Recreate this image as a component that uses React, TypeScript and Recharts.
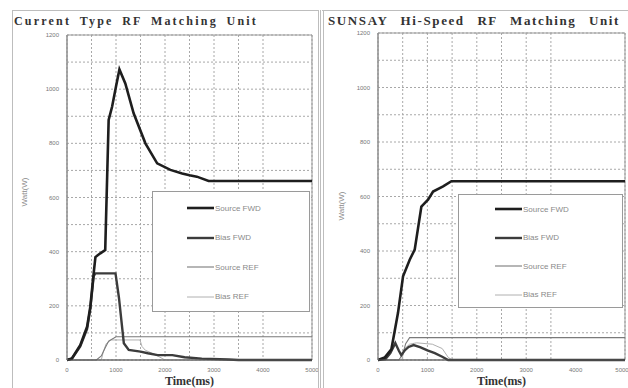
import React from "react";
import { CartesianGrid, Legend, Line, LineChart, ReferenceArea, XAxis, YAxis } from "recharts";

// time (ms) / watt pairs
const curSrcFwdT = [0, 100, 270, 410, 476, 544, 580, 680, 780, 850, 920, 1000, 1070, 1190, 1360, 1600, 1840, 2110, 2350, 2500, 2650, 2890, 5000];
const curSrcFwdW = [0, 6, 55, 123, 197, 320, 380, 394, 406, 886, 935, 1010, 1073, 1021, 911, 800, 726, 702, 689, 682, 677, 661, 661];
const curBiasFwdT = [0, 100, 270, 410, 476, 544, 580, 990, 1060, 1160, 1260, 1500, 1650, 1850, 2150, 2400, 2750, 3300, 3500, 5000];
const curBiasFwdW = [0, 5, 50, 115, 190, 310, 320, 320, 230, 62, 37, 31, 25, 18, 18, 10, 5, 2, 0, 0];
const curSrcRefT = [0, 600, 700, 780, 850, 950, 1000, 5000];
const curSrcRefW = [0, 0, 15, 45, 70, 80, 86, 86];
const curBiasRefT = [0, 700, 740, 800, 900, 1490, 1530, 1600, 1800, 2000, 5000];
const curBiasRefW = [0, 0, 30, 60, 74, 74, 50, 36, 20, 0, 0];

const newSrcFwdT = [0, 135, 270, 405, 507, 642, 743, 878, 1013, 1115, 1318, 1486, 5000];
const newSrcFwdW = [0, 9, 39, 173, 307, 368, 405, 563, 588, 618, 637, 656, 656];
const newBiasFwdT = [0, 150, 250, 350, 420, 470, 540, 620, 720, 850, 1000, 1150, 1300, 1420, 5000];
const newBiasFwdW = [0, 3, 25, 62, 35, 18, 35, 48, 55, 47, 35, 25, 12, 0, 0];
const newSrcRefT = [0, 420, 500, 560, 640, 5000];
const newSrcRefW = [0, 0, 20, 60, 82, 82];
const newBiasRefT = [0, 480, 540, 640, 780, 1100, 1300, 1420, 1500, 5000];
const newBiasRefW = [0, 0, 42, 58, 63, 58, 42, 10, 0, 0];

const seriesNames = ["Source FWD", "Bias FWD", "Source REF", "Bias REF"];
const seriesColors = ["#1e1e1e", "#3c3c3c", "#7a7a7a", "#b0b0b0"];
const seriesWidths = [2.6, 2.4, 1.1, 1];

const xTicks = [0, 500, 1000, 1500, 2000, 2500, 3000, 3500, 4000, 4500, 5000];
const yTicks = [0, 100, 200, 300, 400, 500, 600, 700, 800, 900, 1000, 1100, 1200];

const zip = (t: number[], w: number[]) => t.map((v, i) => ({ t: v, w: w[i] }));

const leftSeries = [
  zip(curSrcFwdT, curSrcFwdW),
  zip(curBiasFwdT, curBiasFwdW),
  zip(curSrcRefT, curSrcRefW),
  zip(curBiasRefT, curBiasRefW),
];
const rightSeries = [
  zip(newSrcFwdT, newSrcFwdW),
  zip(newBiasFwdT, newBiasFwdW),
  zip(newSrcRefT, newSrcRefW),
  zip(newBiasRefT, newBiasRefW),
];

type Box = { left: number; top: number; width: number; height: number; lineX: number; rowTop: number; rowGap: number };

function LegendBox({ box }: { box: Box }) {
  return (
    <div
      style={{
        width: box.width,
        height: box.height,
        border: "1px solid #9a9a9a",
        background: "#fff",
        position: "relative",
        boxSizing: "border-box",
        fontFamily: "Arial, 'Liberation Sans', sans-serif",
      }}
    >
      {seriesNames.map((name, i) => (
        <div
          key={name}
          style={{
            position: "absolute",
            left: box.lineX,
            top: box.rowTop + i * box.rowGap - 6,
            height: 12,
            display: "flex",
            alignItems: "center",
            fontSize: 8,
            color: "#8a8a8a",
            whiteSpace: "nowrap",
          }}
        >
          <svg width={27} height={12}>
            <line x1={0} y1={6} x2={27} y2={6} stroke={seriesColors[i]} strokeWidth={seriesWidths[i]} />
          </svg>
          <span style={{ marginLeft: 1 }}>{name}</span>
        </div>
      ))}
    </div>
  );
}

function Panel(props: {
  x: number;
  title: string;
  series: { t: number; w: number }[][];
  yAxisW: number;
  top: number;
  right: number;
  box: Box;
  labelX: number;
  labelY: number;
  titleX: number;
  titleW: number;
  titleSize: number;
  titleSpacing: number;
}) {
  const { x, title, series, yAxisW, top, right, box } = props;
  return (
    <>
      <div
        style={{
          position: "absolute",
          left: props.titleX,
          top: 14,
          width: props.titleW,
          fontFamily: "'Liberation Serif', 'DejaVu Serif', serif",
          fontWeight: "bold",
          fontSize: props.titleSize,
          lineHeight: "14px",
          letterSpacing: props.titleSpacing,
          color: "#333",
          textAlignLast: "justify",
          textAlign: "justify",
          whiteSpace: "nowrap",
        }}
      >
        {title}
      </div>
      <div
        style={{
          position: "absolute",
          left: props.labelX - 30,
          top: props.labelY - 6,
          width: 60,
          textAlign: "center",
          transform: "rotate(-90deg)",
          fontFamily: "Arial, 'Liberation Sans', sans-serif",
          fontSize: 8,
          color: "#8a8a8a",
          lineHeight: "12px",
        }}
      >
        Watt(W)
      </div>
      <div style={{ position: "absolute", left: x, top: 0 }}>
        <LineChart width={306} height={388} margin={{ top, right, bottom: 0, left: 0 }}>
          <CartesianGrid stroke="#a8a8a8" strokeDasharray="2 2" />
          <XAxis
            dataKey="t"
            type="number"
            domain={[0, 5000]}
            ticks={xTicks}
            tickFormatter={(v: number) => (v % 1000 === 0 ? String(v) : "")}
            tickLine={false}
            axisLine={{ stroke: "#555" }}
            height={28}
            tick={{ fontSize: 6, fill: "#777", fontFamily: "Arial" }}
            allowDuplicatedCategory={false}
            label={{
              value: "Time(ms)",
              position: "insideBottom",
              offset: 3,
              style: { fontFamily: "'Liberation Serif', serif", fontWeight: "bold", fontSize: 12, fill: "#333" },
            }}
          />
          <YAxis
            type="number"
            domain={[0, 1200]}
            ticks={yTicks}
            tickFormatter={(v: number) => (v % 200 === 0 ? String(v) : "")}
            tickLine={false}
            axisLine={{ stroke: "#888" }}
            width={yAxisW}
            tick={{ fontSize: 6, fill: "#777", fontFamily: "Arial" }}
          />
          <ReferenceArea x1={0} x2={5000} y1={0} y2={1200} fill="none" stroke="#999" ifOverflow="extendDomain" />
          {[3, 2, 1, 0].map((i) => (
            <Line
              key={seriesNames[i]}
              data={series[i]}
              dataKey="w"
              name={seriesNames[i]}
              type="linear"
              stroke={seriesColors[i]}
              strokeWidth={seriesWidths[i]}
              dot={false}
              activeDot={false}
              isAnimationActive={false}
            />
          ))}
          <Legend
            layout="horizontal"
            verticalAlign="middle"
            align="center"
            wrapperStyle={{ position: "absolute", left: box.left, top: box.top, width: box.width, height: box.height }}
            content={() => <LegendBox box={box} />}
          />
        </LineChart>
      </div>
    </>
  );
}

export default function App() {
  return (
    <div
      style={{
        position: "absolute",
        left: 0,
        top: 0,
        width: 628,
        height: 388,
        background: "#fff",
        overflow: "hidden",
      }}
    >
      <div style={{ position: "absolute", left: 12, top: 10, width: 305, height: 390, border: "1px solid #bdbdbd" }} />
      <div style={{ position: "absolute", left: 320, top: 10, width: 310, height: 390, borderLeft: "4px double #bdbdbd", borderTop: "1px solid #bdbdbd" }} />
      <Panel
        x={12}
        title="Current Type RF Matching Unit"
        series={leftSeries}
        yAxisW={55}
        top={35}
        right={6}
        box={{ left: 140, top: 191, width: 158, height: 121, lineX: 34, rowTop: 16, rowGap: 29.5 }}
        labelX={25}
        labelY={192}
        titleX={14}
        titleW={244}
        titleSize={12}
        titleSpacing={2.2}
      />
      <Panel
        x={322}
        title="SUNSAY Hi-Speed RF Matching Unit"
        series={rightSeries}
        yAxisW={56}
        top={33}
        right={3}
        box={{ left: 136, top: 194, width: 165, height: 114, lineX: 36, rowTop: 14, rowGap: 28.5 }}
        labelX={342}
        labelY={206}
        titleX={328}
        titleW={292}
        titleSize={13}
        titleSpacing={1.6}
      />
    </div>
  );
}
